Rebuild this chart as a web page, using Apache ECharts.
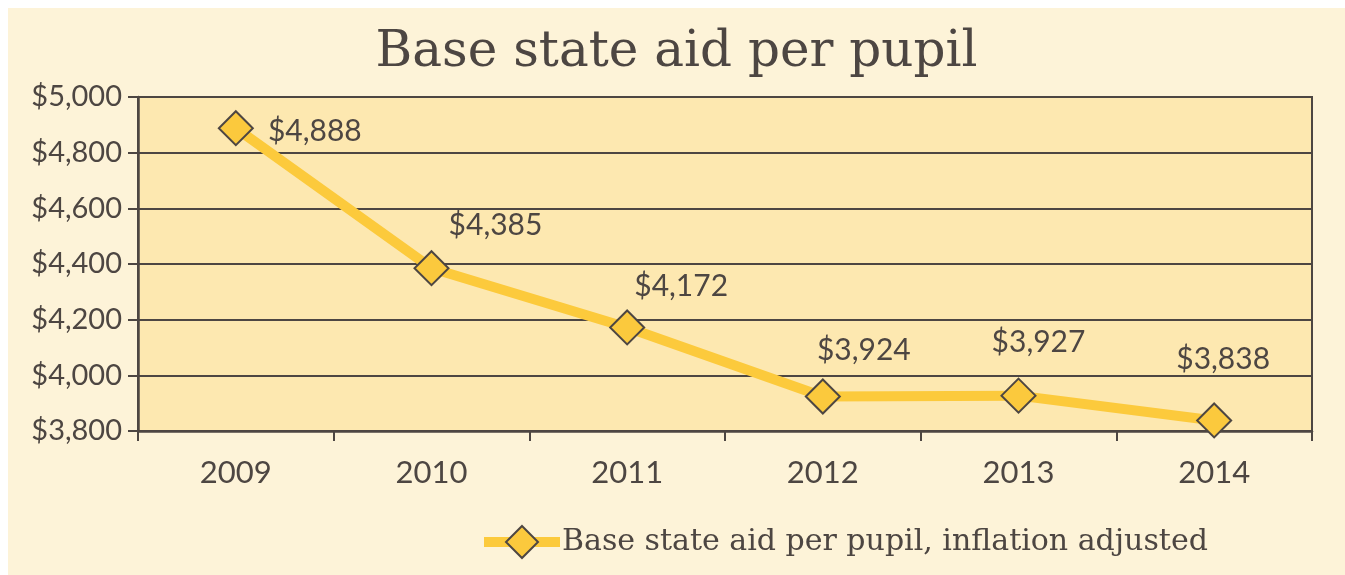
<!DOCTYPE html>
<html>
<head>
<meta charset="utf-8">
<script src="https://cdn.jsdelivr.net/npm/echarts@6/dist/echarts.min.js"></script>
<style>
  html, body { margin: 0; padding: 0; background: #ffffff; }
  #main { position: absolute; left: 8px; top: 8px; width: 1337px; height: 567px; }
</style>
</head>
<body>
<div id="main"></div>
<script>
// 数据
const years = ['2009', '2010', '2011', '2012', '2013', '2014']
const aidPerPupil = [4888, 4385, 4172, 3924, 3927, 3838]
const seriesName = 'Base state aid per pupil, inflation adjusted'

// 标签偏移 (相对于点)
const labelOffsets = [[79, 3], [64, -43], [54, -41], [41, -46], [20, -53], [9, -61]]

const textColor = '#4d4642'
const fmtMoney = v => '$' + v.toLocaleString('en-US')

const myChart = echarts.init(document.getElementById('main'))
const option = {
  backgroundColor: '#fdf3d8',
  animation: false,
  title: {
    text: 'Base state aid per pupil',
    left: 'center',
    top: 15,
    textStyle: { fontFamily: 'DejaVu Serif', fontWeight: 'normal', fontSize: 50, color: textColor }
  },
  legend: {
    left: 471,
    top: 517,
    padding: 0,
    itemWidth: 76,
    itemHeight: 40,
    itemGap: 4,
    lineStyle: { width: 10 },
    textStyle: { fontFamily: 'DejaVu Serif', fontSize: 30, color: textColor, padding: [0, 0, 0, -3] },
    data: [seriesName]
  },
  grid: {
    left: 130, top: 89, right: 33, bottom: 144,
    show: true,
    backgroundColor: '#fde8b0',
    borderColor: textColor,
    borderWidth: 2
  },
  xAxis: {
    type: 'category',
    data: years,
    boundaryGap: true,
    axisLine: { lineStyle: { color: textColor, width: 2.5 } },
    axisTick: { show: true, length: 10, lineStyle: { color: textColor, width: 2 } },
    axisLabel: { margin: 26, fontFamily: 'Lato', fontSize: 31, color: textColor }
  },
  yAxis: {
    type: 'value',
    min: 3800, max: 5000, interval: 200,
    axisLine: { show: true, lineStyle: { color: textColor, width: 2.5 } },
    axisTick: { show: true, length: 10, lineStyle: { color: textColor, width: 2 } },
    axisLabel: { margin: 16, fontFamily: 'Lato', fontSize: 29, color: textColor, formatter: fmtMoney },
    splitLine: { lineStyle: { color: textColor, width: 2 } }
  },
  series: [{
    name: seriesName,
    type: 'line',
    data: aidPerPupil.map((v, i) => ({
      value: v,
      label: { offset: labelOffsets[i] }
    })),
    symbol: 'diamond',
    symbolSize: 34,
    lineStyle: { color: '#fcca3c', width: 10 },
    itemStyle: { color: '#fbc93d', borderColor: textColor, borderWidth: 2 },
    label: {
      show: true,
      position: 'inside',
      fontFamily: 'Lato',
      fontSize: 30,
      color: textColor,
      formatter: p => fmtMoney(p.value)
    }
  }]
}
myChart.setOption(option)
</script>
</body>
</html>
